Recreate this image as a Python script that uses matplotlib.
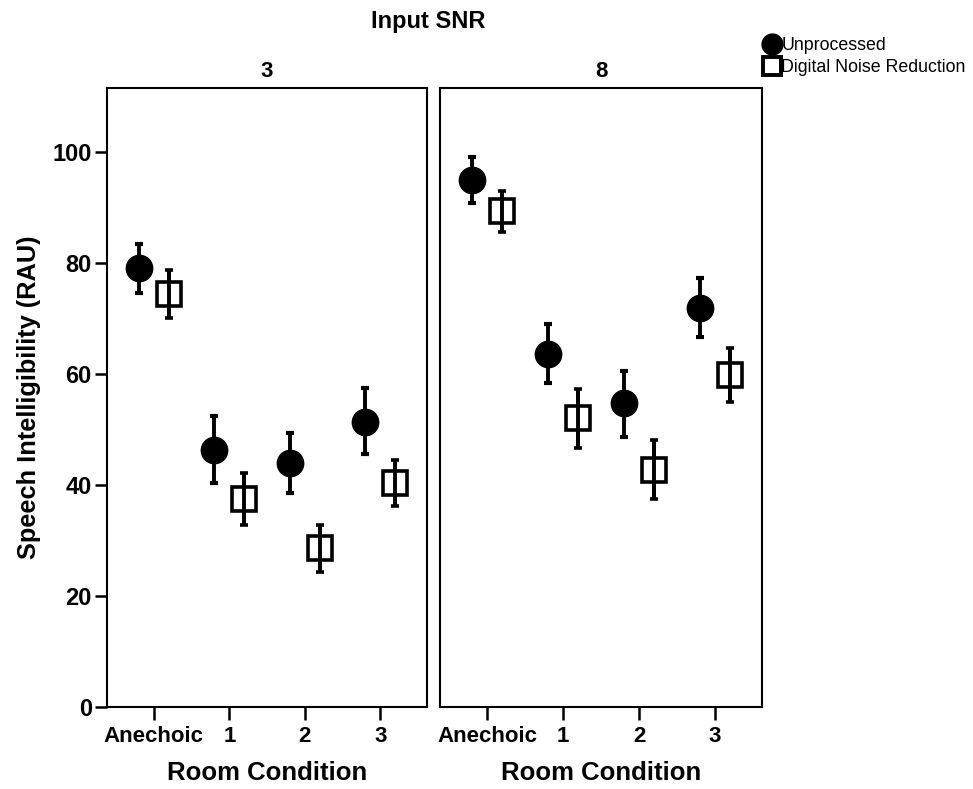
import matplotlib
matplotlib.use("Agg")
import matplotlib.pyplot as plt
import numpy as np
from matplotlib.lines import Line2D

plt.rcParams['font.family'] = ['Liberation Sans', 'DejaVu Sans']

conditions = ['Anechoic', '1', '2', '3']
snr_panels = ['3', '8']

# SNR 3
unproc_3 = [79.1, 46.3, 44.0, 51.4]
unproc_3_hi = [83.4, 52.4, 49.4, 57.5]
unproc_3_lo = [74.6, 40.4, 38.6, 45.6]
dnr_3 = [74.4, 37.5, 28.6, 40.4]
dnr_3_hi = [78.7, 42.2, 32.8, 44.5]
dnr_3_lo = [70.1, 32.8, 24.3, 36.2]

# SNR 8
unproc_8 = [95.0, 63.6, 54.8, 71.9]
unproc_8_hi = [99.1, 69.0, 60.5, 77.3]
unproc_8_lo = [90.8, 58.4, 48.6, 66.7]
dnr_8 = [89.4, 52.1, 42.7, 59.8]
dnr_8_hi = [93.0, 57.3, 48.1, 64.7]
dnr_8_lo = [85.6, 46.7, 37.5, 55.0]

panels = [
    (unproc_3, unproc_3_lo, unproc_3_hi, dnr_3, dnr_3_lo, dnr_3_hi),
    (unproc_8, unproc_8_lo, unproc_8_hi, dnr_8, dnr_8_lo, dnr_8_hi),
]

fig = plt.figure(figsize=(9.73, 7.89), dpi=100)
ax1 = fig.add_axes([0.110, 0.104, 0.329, 0.7845])
ax2 = fig.add_axes([0.4522, 0.104, 0.331, 0.7845])
axes = [ax1, ax2]

x = np.arange(len(conditions))
off = 0.2

for ax, (u, ul, uh, d, dl, dh), title in zip(axes, panels, snr_panels):
    u = np.array(u); d = np.array(d)
    uerr = [u - np.array(ul), np.array(uh) - u]
    derr = [d - np.array(dl), np.array(dh) - d]
    ax.errorbar(x - off, u, yerr=uerr, fmt='o', color='black', ms=19,
                elinewidth=2.8, capsize=3.2, capthick=3.0, zorder=3)
    ax.errorbar(x + off, d, yerr=derr, fmt='s', color='black', ms=17,
                mfc='white', mec='black', mew=2.6,
                elinewidth=2.8, capsize=3.2, capthick=3.0, zorder=3)
    # error line visible through the hollow square
    ax.vlines(x + off, dl, dh, color='black', lw=2.8, zorder=4)
    ax.set_xlim(-0.62, 3.62)
    ax.set_ylim(0, 111.5)
    ax.set_xticks(x)
    ax.set_xticklabels(conditions, fontsize=16, fontweight='bold')
    ax.tick_params(axis='x', direction='out', length=9, width=1.8, pad=5)
    for s in ax.spines.values():
        s.set_linewidth(1.5)
    ax.set_xlabel('Room Condition', fontsize=18.5, fontweight='bold', labelpad=10)
    ax.set_title(title, fontsize=16, fontweight='bold', pad=8)

ax1.set_yticks([0, 20, 40, 60, 80, 100])
ax1.set_yticklabels(['0', '20', '40', '60', '80', '100'], fontsize=17, fontweight='bold')
ax1.tick_params(axis='y', direction='out', length=9, width=1.8, pad=2)
ax1.set_ylabel('Speech Intelligibility (RAU)', fontsize=18.3, fontweight='bold', labelpad=8)
ax2.set_yticks([])

fig.text(0.44, 0.973, 'Input SNR', ha='center', va='center', fontsize=17, fontweight='bold')

handles = [
    Line2D([], [], marker='o', ls='none', color='black', ms=15),
    Line2D([], [], marker='s', ls='none', color='black', mfc='white', ms=13, mew=2.8),
]
fig.legend(handles, ['Unprocessed', 'Digital Noise Reduction'],
           loc='upper left', bbox_to_anchor=(0.783, 0.953), frameon=False,
           fontsize=12.8, handletextpad=0.0, borderaxespad=0, labelspacing=0.3,
           handlelength=1.1, borderpad=0)

fig.savefig('out.png', dpi=100)
